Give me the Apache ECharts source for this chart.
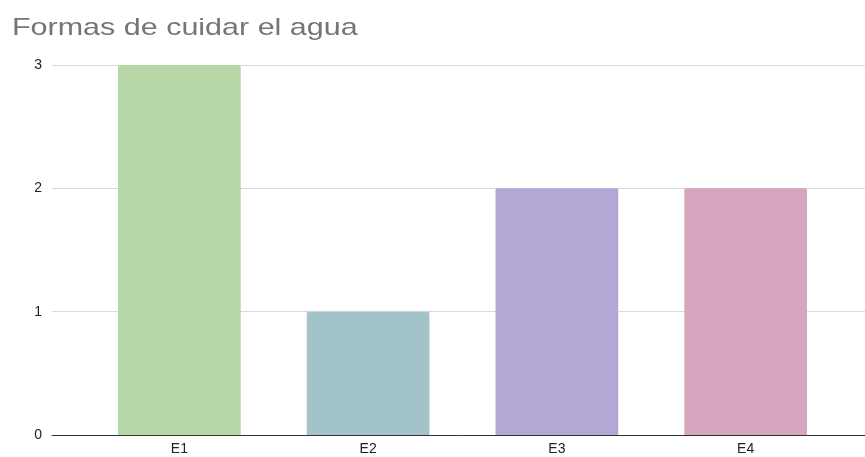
<!DOCTYPE html>
<html>
<head>
<meta charset="utf-8">
<script src="https://cdn.jsdelivr.net/npm/echarts@6/dist/echarts.min.js"></script>
<style>
  html, body { margin: 0; padding: 0; background: #fff; }
  #main { width: 865px; height: 457px; }
</style>
</head>
<body>
<div id="main"></div>
<script>
// datos
var categorias = ["E1", "E2", "E3", "E4"];
var valores = [3, 1, 2, 2];
var colores = ["#b6d7a8", "#a2c4c9", "#b4a7d6", "#d5a6bd"];
var titulo = "Formas de cuidar el agua";

var chart = echarts.init(document.getElementById("main"));
chart.setOption({
  animation: false,
  // el título de la imagen viene algo estirado a lo ancho
  graphic: [{
    type: "text",
    left: 12,
    top: 16,
    scaleX: 1.27,
    style: {
      text: titulo,
      font: "normal 24px 'Liberation Sans'",
      fill: "#757575"
    }
  }],
  grid: [
    { left: 52, right: 0, top: 65, bottom: 22 },
    { left: 85, right: 25, top: 65, bottom: 22 }
  ],
  xAxis: [
    {
      gridIndex: 0, type: "value", min: 0, max: 1,
      axisLine: { show: true, lineStyle: { color: "#333", width: 1 } },
      axisTick: { show: false }, axisLabel: { show: false }, splitLine: { show: false }
    },
    {
      gridIndex: 1, type: "category", data: categorias,
      axisLine: { show: false }, axisTick: { show: false },
      axisLabel: { color: "#222", fontFamily: "Liberation Sans", fontSize: 14, margin: 7 }
    }
  ],
  yAxis: [
    {
      gridIndex: 0, type: "value", min: 0, max: 3, interval: 1,
      axisLine: { show: false }, axisTick: { show: false },
      axisLabel: { color: "#222", fontFamily: "Liberation Sans", fontSize: 14, margin: 10 },
      splitLine: { lineStyle: { color: "#d9d9d9", width: 1 } }
    },
    {
      gridIndex: 1, type: "value", min: 0, max: 3, interval: 1, show: false
    }
  ],
  series: [{
    type: "bar",
    xAxisIndex: 1,
    yAxisIndex: 1,
    barWidth: "65%",
    data: valores.map(function (v, i) {
      return { value: v, itemStyle: { color: colores[i], borderRadius: [2, 2, 0, 0] } };
    })
  }]
});
</script>
</body>
</html>
